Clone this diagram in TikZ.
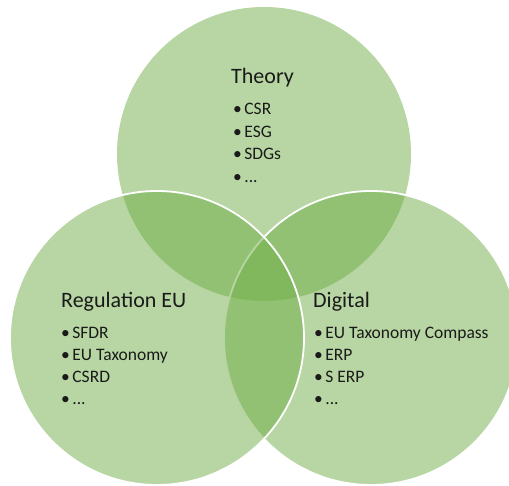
\documentclass[tikz,border=0pt]{standalone}
\usepackage{fontspec}
\setmainfont{Carlito}
\usepackage{tikz}
\definecolor{venngreen}{HTML}{70AD47}
\definecolor{venntext}{HTML}{1A1A1A}

\tikzset{
    titletext/.style={
        anchor=base west,
        inner sep=0pt,
        text=venntext,
        font=\fontsize{22}{24}\selectfont
    },
    itemtext/.style={
        anchor=base west,
        inner sep=0pt,
        text=venntext,
        font=\fontsize{17.5}{20}\selectfont
    }
}

\begin{document}
\begin{tikzpicture}[x=1pt, y=1pt]

\useasboundingbox (0,0) rectangle (509,486);

% ---------------- CERCLES ----------------

% Theory
\fill[
    venngreen,
    fill opacity=0.5
] (264,332) circle (147);

% Digital
\filldraw[
    venngreen,
    fill opacity=0.5,
    draw=white,
    line width=1.8pt
] (371,148) circle (147);

% Regulation EU
\filldraw[
    venngreen,
    fill opacity=0.5,
    draw=white,
    line width=1.8pt
] (157,148) circle (147);


% ---------------- THEORY ----------------

\node[titletext] (theory) at (231,402) {Theory};

\node[itemtext] (theory1) at (233,371) {\textbullet\hspace{2.5pt}CSR};
\node[itemtext] (theory2) at (233,348.5) {\textbullet\hspace{2.5pt}ESG};
\node[itemtext] (theory3) at (233,326) {\textbullet\hspace{2.5pt}SDGs};
\node[itemtext] (theory4) at (233,303.5) {\textbullet\hspace{2.5pt}...};


% ---------------- REGULATION EU ----------------

\node[titletext] (regulation) at (61,178) {Regulation EU};

\node[itemtext] (regulation1) at (61,147) {\textbullet\hspace{2.5pt}SFDR};
\node[itemtext] (regulation2) at (61,125) {\textbullet\hspace{2.5pt}EU Taxonomy};
\node[itemtext] (regulation3) at (61,103) {\textbullet\hspace{2.5pt}CSRD};
\node[itemtext] (regulation4) at (61,81) {\textbullet\hspace{2.5pt}...};


% ---------------- DIGITAL ----------------

\node[titletext] (digital) at (313,178) {Digital};

\node[itemtext] (digital1) at (314,147) {\textbullet\hspace{2.5pt}EU Taxonomy Compass};
\node[itemtext] (digital2) at (314,125) {\textbullet\hspace{2.5pt}ERP};
\node[itemtext] (digital3) at (314,103) {\textbullet\hspace{2.5pt}S ERP};
\node[itemtext] (digital4) at (314,81) {\textbullet\hspace{2.5pt}...};

\end{tikzpicture}
\end{document}
